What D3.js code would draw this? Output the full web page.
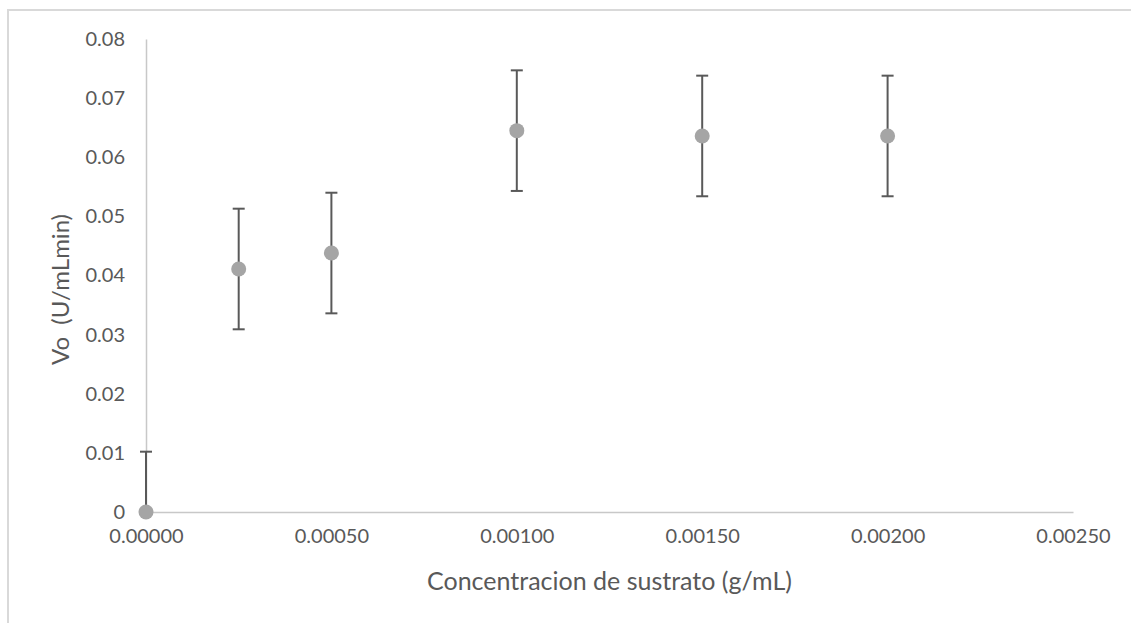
<!DOCTYPE html>
<html>
<head>
<meta charset="utf-8">
<script src="https://cdn.jsdelivr.net/npm/d3@7"></script>
<style>
  body { margin: 0; background: #fff; }
  svg { display: block; }
  .axis text { font-family: Lato, "Open Sans", sans-serif; fill: #595959; }
</style>
</head>
<body>
<div id="chart"></div>
<script>
// substrate concentration (g/mL)
var concentrations = [0, 0.00025, 0.0005, 0.0010, 0.0015, 0.0020];
// initial velocity Vo (U/mLmin)
var velocities = [0, 0.0411, 0.0438, 0.0645, 0.0636, 0.0636];
// error bar half-width
var errors = [0.0102, 0.0102, 0.0102, 0.0102, 0.0102, 0.0102];

var xTicks = [0, 0.0005, 0.0010, 0.0015, 0.0020, 0.0025];
var yTicks = [0, 0.01, 0.02, 0.03, 0.04, 0.05, 0.06, 0.07, 0.08];

var width = 1131,
    height = 623,
    margin = {top: 39, right: 58, bottom: 111, left: 146},
    textColor = '#595959',
    axisColor = '#C8C8C8',
    pointColor = '#A5A5A5',
    barColor = '#595959';

var x = d3.scaleLinear().domain([0, 0.0025]).range([margin.left, width - margin.right]),
    y = d3.scaleLinear().domain([0, 0.08]).range([height - margin.bottom, margin.top]);

var svg = d3.select('#chart').append('svg')
    .attr('width', width)
    .attr('height', height);

// chart area border (only top and left visible in the frame)
svg.append('rect')
    .attr('x', 8)
    .attr('y', 10)
    .attr('width', width + 20)
    .attr('height', height + 20)
    .attr('fill', 'none')
    .attr('stroke', '#D9D9D9')
    .attr('stroke-width', 2);

svg.append('clipPath').attr('id', 'plot-clip')
    .append('rect')
    .attr('x', margin.left - 20)
    .attr('y', margin.top - 20)
    .attr('width', width - margin.left - margin.right + 40)
    .attr('height', height - margin.top - margin.bottom + 20);

var yAxis = d3.axisLeft(y)
    .tickValues(yTicks)
    .tickSize(0)
    .tickPadding(21)
    .tickFormat(function(d){ return d === 0 ? '0' : d3.format('.2f')(d); });

var xAxis = d3.axisBottom(x)
    .tickValues(xTicks)
    .tickSize(0)
    .tickPadding(17)
    .tickFormat(d3.format('.5f'));

svg.append('g')
    .attr('class', 'axis axis--y')
    .attr('transform', 'translate(' + margin.left + ',0)')
    .call(yAxis);

svg.append('g')
    .attr('class', 'axis axis--x')
    .attr('transform', 'translate(0,' + (height - margin.bottom) + ')')
    .call(xAxis);

svg.selectAll('.axis .domain')
    .attr('stroke', axisColor)
    .attr('stroke-width', 1.5);
svg.selectAll('.axis text')
    .style('font-size', '20px');

// axis titles
svg.append('text')
    .attr('class', 'axis')
    .attr('x', x(0.00125))
    .attr('y', 590)
    .attr('text-anchor', 'middle')
    .style('font-family', 'Lato, sans-serif')
    .style('font-size', '25px')
    .attr('fill', textColor)
    .text('Concentracion de sustrato (g/mL)');

svg.append('text')
    .attr('class', 'axis')
    .attr('transform', 'translate(69,' + (y(0.04) + 14) + ') rotate(-90)')
    .attr('text-anchor', 'middle')
    .style('font-family', 'Lato, sans-serif')
    .style('font-size', '24px')
    .attr('fill', textColor)
    .text('Vo\u00a0 (U/mLmin)');

var data = concentrations.map(function(c, i){
    return {x: c, y: velocities[i], e: errors[i]};
});

// error bars
var eb = svg.append('g')
    .attr('class', 'errorbars')
    .attr('clip-path', 'url(#plot-clip)')
    .selectAll('g')
    .data(data)
    .enter().append('g');

eb.append('line')
    .attr('x1', function(d){ return x(d.x); })
    .attr('x2', function(d){ return x(d.x); })
    .attr('y1', function(d){ return y(d.y - d.e); })
    .attr('y2', function(d){ return y(d.y + d.e); })
    .attr('stroke', barColor)
    .attr('stroke-width', 2);

eb.selectAll('.cap')
    .data(function(d){ return [d.y - d.e, d.y + d.e]; })
    .enter().append('line')
    .attr('class', 'cap')
    .attr('x1', function(){ return x(d3.select(this.parentNode).datum().x) - 6; })
    .attr('x2', function(){ return x(d3.select(this.parentNode).datum().x) + 6; })
    .attr('y1', function(v){ return y(v); })
    .attr('y2', function(v){ return y(v); })
    .attr('stroke', barColor)
    .attr('stroke-width', 2);

// points
svg.append('g')
    .attr('class', 'points')
    .selectAll('circle')
    .data(data)
    .enter().append('circle')
    .attr('cx', function(d){ return x(d.x); })
    .attr('cy', function(d){ return y(d.y); })
    .attr('r', 7.5)
    .attr('fill', pointColor);
</script>
</body>
</html>
